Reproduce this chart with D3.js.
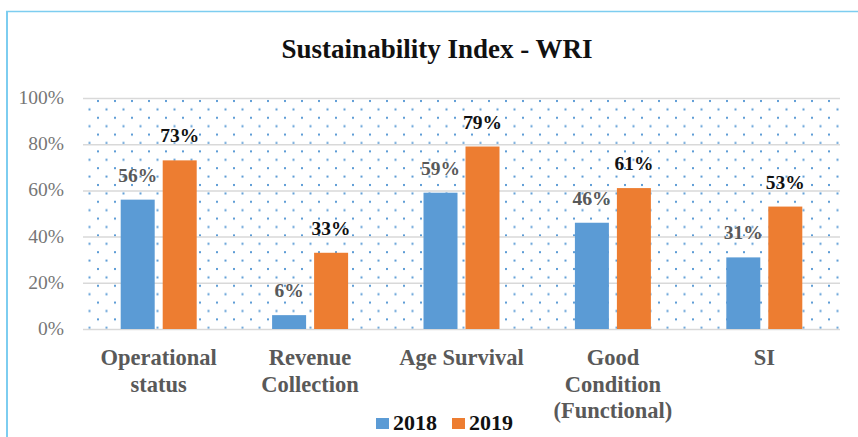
<!DOCTYPE html>
<html>
<head>
<meta charset="utf-8">
<script src="https://cdn.jsdelivr.net/npm/d3@7"></script>
<style>
  body { margin: 0; background: #fff; }
  svg text { font-family: "Liberation Serif", "DejaVu Serif", serif; }
</style>
</head>
<body>
<svg id="chart"></svg>
<script>
// data
const categories = [["Operational", "status"], ["Revenue", "Collection"], ["Age Survival"], ["Good", "Condition", "(Functional)"], ["SI"]];
const series = ["2018", "2019"];
const values2018 = [0.56, 0.06, 0.59, 0.46, 0.31];
const values2019 = [0.73, 0.33, 0.79, 0.61, 0.53];
const yTicks = [0, 0.2, 0.4, 0.6, 0.8, 1.0];
const colors = ["#5b9bd5", "#ed7d31"];

const W = 858, H = 437;
const plot = {left: 83, right: 840, top: 98, bottom: 329};

const svg = d3.select("#chart").attr("width", W).attr("height", H);

// dotted plot-area fill
const defs = svg.append("defs");
const pat = defs.append("pattern")
    .attr("id", "dots")
    .attr("patternUnits", "userSpaceOnUse")
    .attr("x", plot.left).attr("y", plot.top - 2)
    .attr("width", 17).attr("height", 16.8);
pat.append("rect").attr("x", 14).attr("y", 4).attr("width", 2).attr("height", 2).attr("fill", "#5b9bd5");
pat.append("rect").attr("x", 5.5).attr("y", 12.4).attr("width", 2).attr("height", 2).attr("fill", "#5b9bd5");

// outer frame (top and left edges visible)
svg.append("line").attr("x1", 6).attr("x2", W).attr("y1", 11.5).attr("y2", 11.5)
    .attr("stroke", "#7dcdf0").attr("stroke-width", 1.5);
svg.append("line").attr("x1", 7).attr("x2", 7).attr("y1", 11).attr("y2", H)
    .attr("stroke", "#7dcdf0").attr("stroke-width", 2);

// title
svg.append("text")
    .attr("x", 437).attr("y", 58)
    .attr("text-anchor", "middle")
    .attr("font-size", 27).attr("font-weight", "bold")
    .attr("fill", "#111")
    .text("Sustainability Index - WRI");

// scales
const x = d3.scaleBand().domain(d3.range(categories.length)).range([plot.left, plot.right]);
const y = d3.scaleLinear().domain([0, 1]).range([plot.bottom, plot.top]);

svg.append("rect")
    .attr("x", plot.left).attr("y", plot.top)
    .attr("width", plot.right - plot.left).attr("height", plot.bottom - plot.top)
    .attr("fill", "url(#dots)");

// gridlines
svg.append("g")
    .attr("transform", `translate(${plot.left},0)`)
    .call(d3.axisLeft(y).tickValues(yTicks).tickSize(-(plot.right - plot.left)).tickFormat(""))
    .call(g => g.select(".domain").remove())
    .call(g => g.selectAll("line").attr("stroke", "#d9d9d9").attr("stroke-width", 1.5));

// y tick labels
svg.append("g")
    .selectAll("text")
    .data(yTicks)
    .enter().append("text")
    .attr("x", 64).attr("y", d => y(d) + 6)
    .attr("text-anchor", "end")
    .attr("font-size", 19.5)
    .attr("fill", "#767676")
    .text(d => d3.format(".0%")(d));

// bars
const barW = 34, gap = 8;
const xs = d3.scaleOrdinal().domain(series).range([-gap / 2 - barW, gap / 2]);
const rows = categories.map((c, i) => ({i, vals: [values2018[i], values2019[i]]}));

const groups = svg.selectAll(".grp")
    .data(rows)
    .enter().append("g")
    .attr("class", "grp")
    .attr("transform", d => `translate(${x(d.i) + x.bandwidth() / 2},0)`);

groups.selectAll("rect")
    .data(d => d.vals.map((v, k) => ({v, k})))
    .enter().append("rect")
    .attr("x", d => xs(series[d.k]))
    .attr("y", d => y(d.v))
    .attr("width", barW)
    .attr("height", d => y(0) - y(d.v))
    .attr("fill", d => colors[d.k]);

// data labels
groups.selectAll(".lbl")
    .data(d => d.vals.map((v, k) => ({v, k})))
    .enter().append("text")
    .attr("class", "lbl")
    .attr("x", d => xs(series[d.k]) + barW / 2)
    .attr("y", d => y(d.v) - 18)
    .attr("text-anchor", "middle")
    .attr("font-size", 19.5).attr("font-weight", "bold")
    .attr("fill", d => d.k === 0 ? "#595959" : "#111")
    .text(d => Math.round(d.v * 100) + "%");

// category labels
const cat = svg.append("g").selectAll("text")
    .data(categories)
    .enter().append("text")
    .attr("text-anchor", "middle")
    .attr("font-size", 22.5).attr("font-weight", "bold")
    .attr("fill", "#595959")
    .attr("transform", (d, i) => `translate(${x(i) + x.bandwidth() / 2},365)`);
cat.selectAll("tspan")
    .data(d => d)
    .enter().append("tspan")
    .attr("x", 0)
    .attr("y", (d, j) => j * 26.5)
    .text(d => d);

// legend
const legend = svg.append("g").attr("transform", "translate(376,0)");
const lx = [0, 76];
series.forEach((s, k) => {
    legend.append("rect").attr("x", lx[k]).attr("y", 418).attr("width", 13).attr("height", 11).attr("fill", colors[k]);
    legend.append("text").attr("x", lx[k] + 17).attr("y", 430)
        .attr("font-size", 22).attr("font-weight", "bold").attr("fill", "#111")
        .text(s);
});
</script>
</body>
</html>
